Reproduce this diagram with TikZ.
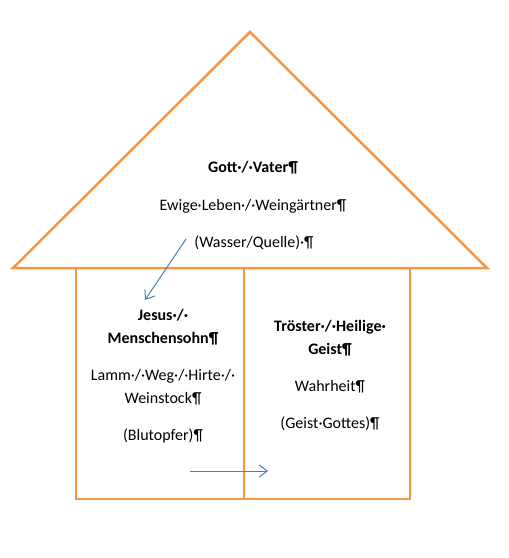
\documentclass[tikz,border=0pt]{standalone}
\usepackage{fontspec}
\setmainfont{Carlito}
\usetikzlibrary{arrows.meta}
\definecolor{houseorange}{HTML}{F79646}
\definecolor{flowblue}{HTML}{4A7EBB}
\begin{document}
\begin{tikzpicture}[
x=1pt,
y=-1pt,
wall/.style={
draw=houseorange,
line width=2.5pt
},
para/.style={
inner sep=0pt,
anchor=base,
align=center,
font=\fontsize{16}{23}\selectfont
},
heading/.style={
para,
font=\fontsize{16}{23}\selectfont\bfseries
},
arrow/.style={
-{Straight Barb[length=8pt,width=12pt]},
draw=flowblue,
line width=1pt
}
]
\useasboundingbox (0,0) rectangle (509,558);

% roof and the two rooms
\draw[wall] (13,268) -- (250,32) -- (487,268) -- cycle;
\draw[wall] (76,268) rectangle (244,499);
\draw[wall] (244,268) rectangle (410,499);

% roof
\node[heading] (gott) at (253,172) {Gott·/·Vater¶};
\node[para] (leben) at (253,210) {Ewige·Leben·/·Weingärtner¶};
\node[para] (wasser) at (254,247) {(Wasser/Quelle)·¶};

% left room (base = last line)
\node[heading] (jesus) at (163,343) {Jesus·/·\\Menschensohn¶};
\node[para] (lamm) at (163,403) {Lamm·/·Weg·/·Hirte·/·\\Weinstock¶};
\node[para] (blut) at (163,440) {(Blutopfer)¶};

% right room (base = last line)
\node[heading] (troester) at (330,354) {Tröster·/·Heilige·\\Geist¶};
\node[para] (wahrheit) at (330,391) {Wahrheit¶};
\node[para] (gottes) at (330,428) {(Geist·Gottes)¶};

\coordinate (fromroof) at (186,239);
\coordinate (toson) at (145,300);
\coordinate (fromson) at (190,471);
\coordinate (tospirit) at (268,471);

\draw[arrow] (fromroof) -- (toson);
\draw[arrow] (fromson) -- (tospirit);

\end{tikzpicture}
\end{document}
